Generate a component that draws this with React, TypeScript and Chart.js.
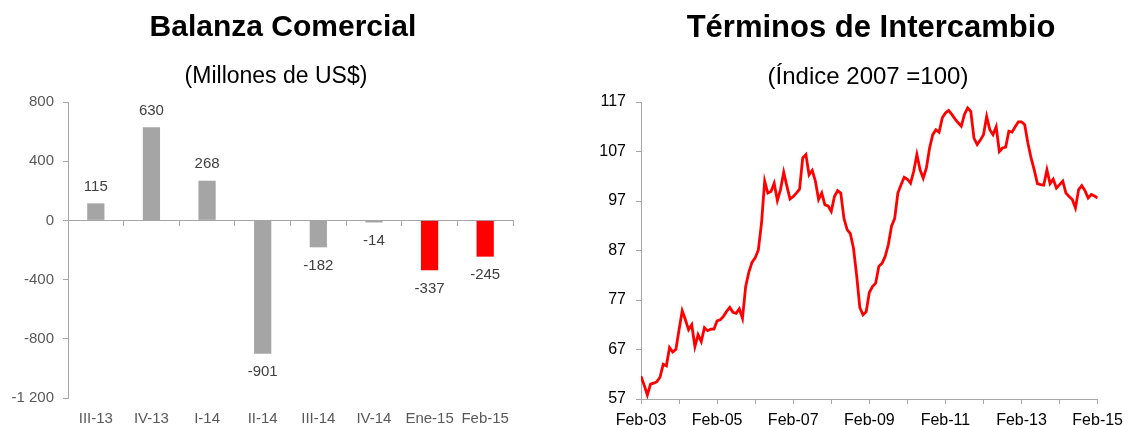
import React, { useEffect, useRef } from 'react';
import { Chart, registerables } from 'chart.js';

Chart.register(...registerables);

const FONT = '"Liberation Sans", Arial, Helvetica, sans-serif';
Chart.defaults.font.family = FONT;

// Balanza Comercial (Millones de US$)
const barCategories = ['III-13', 'IV-13', 'I-14', 'II-14', 'III-14', 'IV-14', 'Ene-15', 'Feb-15'];
const barValues = [115, 630, 268, -901, -182, -14, -337, -245];

// Términos de Intercambio (Índice 2007 = 100), mensual Feb-03 .. Feb-15
const tdiTickLabels = ['Feb-03', 'Feb-05', 'Feb-07', 'Feb-09', 'Feb-11', 'Feb-13', 'Feb-15'];
const tdiValues = [
  61.6, 59.8, 57.8, 60.0, 60.2, 60.5, 61.4, 64.0, 63.7, 67.4, 66.5, 67.0,
  71.0, 74.8, 73.0, 71.0, 72.0, 67.6, 70.0, 68.6, 71.4, 70.8, 71.1, 71.1,
  72.8, 73.0, 73.7, 74.7, 75.5, 74.5, 74.3, 75.2, 73.3, 79.7, 82.6, 84.6,
  85.5, 87.1, 92.5, 101.0, 98.6, 98.9, 100.6, 97.1, 99.3, 102.8, 100.0, 97.4,
  97.9, 98.6, 99.4, 105.7, 106.4, 102.3, 103.2, 101.0, 97.3, 98.6, 96.2, 96.0,
  94.9, 97.9, 99.1, 98.6, 93.5, 91.2, 90.4, 87.5, 82.0, 75.5, 74.0, 74.6,
  78.5, 79.7, 80.4, 83.8, 84.4, 85.8, 88.2, 91.9, 93.5, 98.6, 100.3, 101.8,
  101.4, 100.6, 103.0, 106.4, 103.3, 101.6, 103.7, 107.7, 110.4, 111.4, 110.9, 113.8,
  114.8, 115.3, 114.5, 113.6, 112.8, 112.1, 114.5, 115.8, 115.1, 109.7, 108.4, 109.3,
  110.4, 114.1, 111.4, 110.4, 112.0, 107.0, 107.7, 107.9, 111.1, 110.9, 112.0, 113.0,
  113.0, 112.4, 108.7, 105.7, 103.3, 100.5, 100.3, 100.2, 103.3, 100.5, 101.4, 99.6,
  100.3, 101.0, 98.6, 97.9, 97.3, 95.6, 99.3, 100.1, 99.1, 97.6, 98.3, 98.0,
  97.6,
];

const GRAY_BAR = '#A5A5A5';
const RED = '#FF0000';
const AXIS = '#A6A6A6';

const fmtThousands = (v: number) => String(v).replace(/\B(?=(\d{3})+(?!\d))/g, ' ');

const barLabels = {
  id: 'barLabels',
  afterDatasetsDraw(chart: Chart) {
    const { ctx } = chart;
    const meta = chart.getDatasetMeta(0);
    ctx.save();
    ctx.font = `15px ${FONT}`;
    ctx.fillStyle = '#404040';
    ctx.textAlign = 'center';
    ctx.textBaseline = 'middle';
    meta.data.forEach((bar: any, i: number) => {
      const v = barValues[i];
      const y = v >= 0 ? bar.y - 16.5 : bar.y + 18.5;
      ctx.fillText(String(v), bar.x, y);
    });
    ctx.restore();
  },
};

const BalanzaChart: React.FC = () => {
  const ref = useRef<HTMLCanvasElement>(null);
  useEffect(() => {
    if (!ref.current) return;
    const chart = new Chart(ref.current, {
      type: 'bar',
      data: {
        labels: barCategories,
        datasets: [{
          data: barValues,
          xAxisID: 'x',
          yAxisID: 'y',
          backgroundColor: (c: any) => (c.dataIndex >= 6 ? RED : GRAY_BAR),
          barPercentage: 0.31,
          categoryPercentage: 1,
        }],
      },
      options: {
        responsive: true,
        maintainAspectRatio: false,
        animation: false,
        layout: { padding: { top: 102, left: 0, right: 52, bottom: 0 } },
        scales: {
          x: {
            position: 'bottom',
            grid: { display: false, drawTicks: false },
            border: { display: false },
            ticks: { color: '#595959', font: { size: 15 }, padding: 12, maxRotation: 0, autoSkip: false },
            afterFit: (s: any) => { s.height = 27; },
          },
          x2: {
            type: 'category',
            labels: barCategories,
            position: { y: 0 },
            offset: true,
            grid: { offset: true, drawOnChartArea: false, tickLength: 5, color: AXIS },
            border: { color: AXIS },
            ticks: { display: false },
          },
          y: {
            min: -1200,
            max: 800,
            ticks: { stepSize: 400, color: '#595959', font: { size: 15 }, padding: 9, callback: (v: any) => fmtThousands(Number(v)) },
            grid: { drawOnChartArea: false, tickLength: 5, color: AXIS },
            border: { color: AXIS },
            afterFit: (s: any) => { s.width = 68; },
          },
        } as any,
        plugins: { legend: { display: false }, tooltip: { enabled: false } },
      },
      plugins: [barLabels as any],
    });
    return () => chart.destroy();
  }, []);
  return <canvas ref={ref} />;
};

const TerminosChart: React.FC = () => {
  const ref = useRef<HTMLCanvasElement>(null);
  useEffect(() => {
    if (!ref.current) return;
    const chart = new Chart(ref.current, {
      type: 'line',
      data: {
        datasets: [{
          data: tdiValues.map((v, i) => ({ x: i, y: v })),
          borderColor: RED,
          borderWidth: 2.8,
          pointRadius: 0,
          tension: 0,
          fill: false,
        }],
      },
      options: {
        responsive: true,
        maintainAspectRatio: false,
        animation: false,
        layout: { padding: { top: 102, left: 0, right: 27, bottom: 0 } },
        scales: {
          x: {
            type: 'linear',
            min: 0,
            max: 144,
            grid: { drawOnChartArea: false, tickLength: 5, color: AXIS },
            border: { color: AXIS },
            ticks: {
              stepSize: 12,
              autoSkip: false,
              maxRotation: 0,
              color: '#000',
              font: { size: 16 },
              padding: 7,
              callback: (v: any) => (Number(v) % 24 === 0 ? tdiTickLabels[Number(v) / 24] : ''),
            },
            afterFit: (s: any) => { s.height = 26; },
          },
          y: {
            min: 57,
            max: 117,
            ticks: { stepSize: 10, color: '#000', font: { size: 16 }, padding: 10 },
            grid: { drawOnChartArea: false, tickLength: 5, color: AXIS },
            border: { color: AXIS },
            afterFit: (s: any) => { s.width = 76; },
          },
        } as any,
        plugins: { legend: { display: false }, tooltip: { enabled: false } },
      },
    });
    return () => chart.destroy();
  }, []);
  return <canvas ref={ref} />;
};

const titleStyle = (center: number): React.CSSProperties => ({
  position: 'absolute',
  left: center - 250,
  width: 500,
  textAlign: 'center',
  fontFamily: FONT,
  color: '#000',
  whiteSpace: 'nowrap',
});

export default function App() {
  useEffect(() => {
    document.body.style.margin = '0';
    document.body.style.background = '#fff';
  }, []);
  return (
    <div style={{ position: 'relative', width: 1130, height: 425, background: '#fff', overflow: 'hidden' }}>
      <div style={{ position: 'absolute', left: 0, top: 0, width: 565, height: 425 }}>
        <BalanzaChart />
      </div>
      <div style={{ position: 'absolute', left: 565, top: 0, width: 565, height: 425 }}>
        <TerminosChart />
      </div>
      <div style={{ ...titleStyle(283), top: 11, fontSize: 30, lineHeight: '30px', fontWeight: 'bold' }}>Balanza Comercial</div>
      <div style={{ ...titleStyle(276), top: 64, fontSize: 23, lineHeight: '23px' }}>(Millones de US$)</div>
      <div style={{ ...titleStyle(871), top: 11, fontSize: 31, lineHeight: '31px', fontWeight: 'bold' }}>Términos de Intercambio</div>
      <div style={{ ...titleStyle(868), top: 64, fontSize: 24, lineHeight: '24px' }}>(Índice 2007 =100)</div>
    </div>
  );
}
